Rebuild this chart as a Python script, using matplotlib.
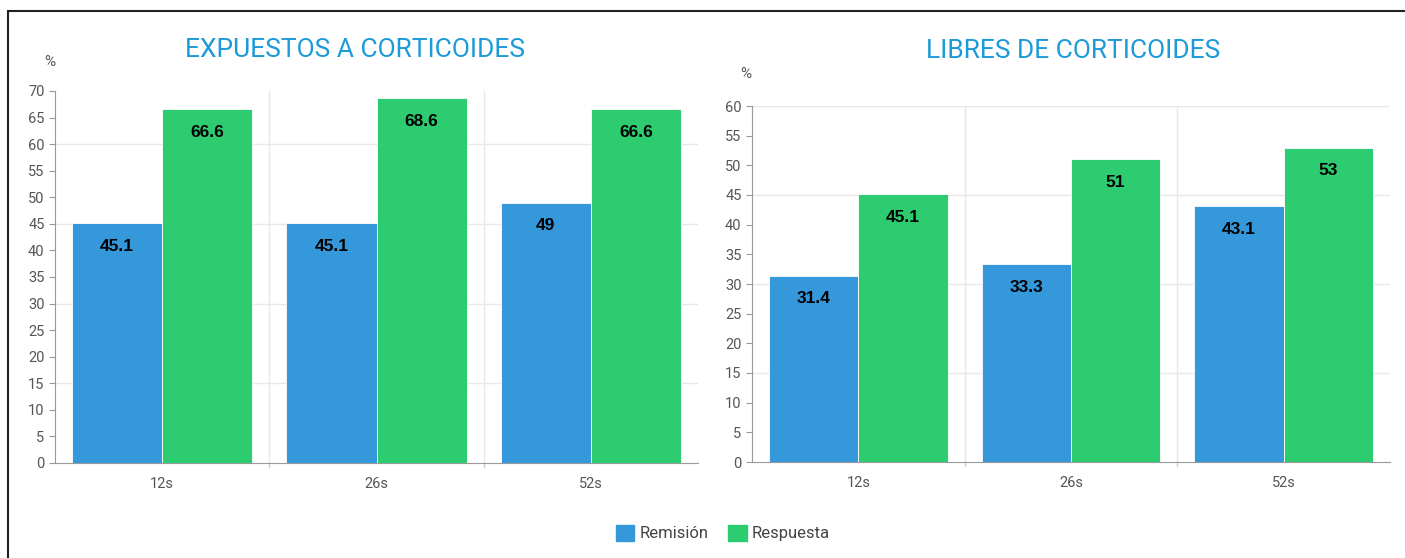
import numpy as np
import matplotlib.pyplot as plt
from matplotlib.patches import Rectangle, Patch

# Datos
semanas = ["12s", "26s", "52s"]
remision_exp = [45.1, 45.1, 49]
respuesta_exp = [66.6, 68.6, 66.6]
remision_lib = [31.4, 33.3, 43.1]
respuesta_lib = [45.1, 51, 53]

azul = "#3498db"
verde = "#2ecc71"
gris = "#555555"

plt.rcParams['font.family'] = ['Roboto', 'DejaVu Sans']

fig = plt.figure(figsize=(14.05, 5.58), dpi=100)

# marco negro
fig.patches.append(Rectangle((8 / 1405, -0.1), 1.2, 1 - 11 / 558 + 0.1,
                             transform=fig.transFigure, fill=False,
                             edgecolor="#222222", linewidth=1.5))


def panel(ax, rem, resp, ymax):
    x = np.arange(len(semanas))
    w = 0.42
    b1 = ax.bar(x - w / 2, rem, w, color=azul, edgecolor="white", linewidth=0.6, zorder=3)
    b2 = ax.bar(x + w / 2, resp, w, color=verde, edgecolor="white", linewidth=0.6, zorder=3)
    for bars in (b1, b2):
        for r in bars:
            v = r.get_height()
            ax.annotate(f"{v:g}", (r.get_x() + r.get_width() / 2, v),
                        xytext=(0, -23), textcoords="offset pixels",
                        ha="center", va="center", fontsize=12.5, fontweight="bold",
                        color="black", family=["Liberation Sans", "DejaVu Sans"], zorder=4)
    ax.set_xlim(-0.5, len(semanas) - 0.5)
    ax.set_ylim(0, ymax)
    ax.set_yticks(np.arange(0, ymax + 1, 5))
    ax.set_xticks(x)
    ax.set_xticklabels(semanas)
    # rejilla
    for yv in range(15, ymax + 1, 15):
        ax.axhline(yv, color="#e8e8e8", linewidth=1, zorder=0)
    for xv in [0.5, 1.5]:
        ax.axvline(xv, color="#e8e8e8", linewidth=1, zorder=0)
        ax.plot([xv, xv], [0, -0.012], transform=ax.get_xaxis_transform(),
                color="#cccccc", lw=1, clip_on=False)
    for s in ["top", "right"]:
        ax.spines[s].set_visible(False)
    ax.spines["left"].set_color("#999999")
    ax.spines["bottom"].set_color("#999999")
    ax.tick_params(axis="y", colors=gris, labelsize=10.5, length=4, color="#999999")
    ax.tick_params(axis="x", colors=gris, labelsize=10.5, length=0, pad=10)


ax1 = fig.add_axes([55 / 1405, 1 - 463 / 558, 643 / 1405, (463 - 91) / 558])
panel(ax1, remision_exp, respuesta_exp, 70)
fig.text(355 / 1405, 1 - 50 / 558, "EXPUESTOS A CORTICOIDES", color="#1d9ad8",
         fontsize=19, ha="center", va="center")
fig.text(50 / 1405, 1 - 62 / 558, "%", color=gris, fontsize=11, ha="center", va="center")

ax2 = fig.add_axes([752 / 1405, 1 - 462 / 558, 638 / 1405, (462 - 106) / 558])
panel(ax2, remision_lib, respuesta_lib, 60)
fig.text(1073 / 1405, 1 - 51 / 558, "LIBRES DE CORTICOIDES", color="#1d9ad8",
         fontsize=19, ha="center", va="center")
fig.text(746 / 1405, 1 - 74 / 558, "%", color=gris, fontsize=11, ha="center", va="center")

fig.legend(handles=[Patch(color=azul, label="Remisión"), Patch(color=verde, label="Respuesta")],
           loc="center", bbox_to_anchor=(723 / 1405, 1 - 533 / 558), ncol=2, frameon=False,
           fontsize=12, handlelength=1.1, handleheight=1.1, handletextpad=0.3,
           columnspacing=1.2, labelcolor="#444444")

fig.savefig("out.png", dpi=100, facecolor="white")
